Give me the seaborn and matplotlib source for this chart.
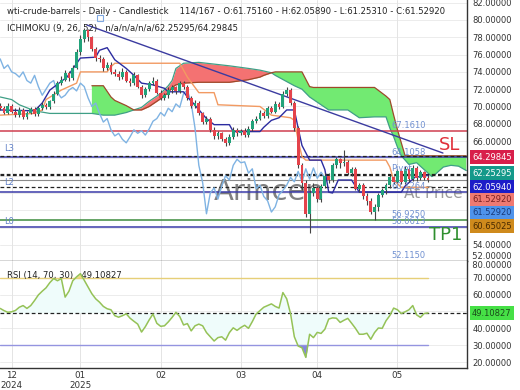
import numpy as np
import pandas as pd
import matplotlib
matplotlib.use("Agg")
import matplotlib.pyplot as plt
import seaborn as sns

# ---------------- data ----------------
header = "wti-crude-barrels - Daily - Candlestick    114/167 - O:61.75160 - H:62.05890 - L:61.25310 - C:61.52920"
ichimoku_header = "ICHIMOKU (9, 26, 52)   n/a/n/a/n/a/62.25295/64.29845"

opens = [
    70.1, 69.8, 69.3, 70.1, 69.4, 69.0, 69.6, 68.8, 69.3, 69.7,
    69.1, 69.8, 70.2, 69.9, 70.6, 71.5, 72.7, 73.1, 73.9, 73.3,
    74.5, 76.3, 77.8, 78.8, 78.0, 76.6, 75.6, 75.5, 74.4, 74.8,
    74.0, 73.8, 73.4, 74.0, 73.0, 72.7, 73.6, 72.3, 71.3, 72.0,
    72.7, 73.0, 71.6, 71.0, 71.3, 71.9, 72.2, 71.8, 72.7, 72.3,
    71.0, 70.0, 70.4, 69.2, 68.2, 68.6, 67.3, 66.6, 66.9, 66.2,
    65.8, 66.5, 67.3, 66.9, 67.2, 66.7, 67.4, 68.3, 68.6, 69.3,
    68.9, 69.8, 69.4, 70.3, 69.9, 71.5, 71.9, 70.4, 67.5, 63.2,
    61.2, 57.6, 60.0, 60.6, 59.3, 60.8, 62.0, 61.5, 63.2, 63.9,
    63.5, 63.6, 62.3, 62.8, 60.5, 60.9, 59.6, 59.1, 57.8, 58.4,
    59.8, 60.3, 60.9, 61.8, 61.3, 62.5, 61.3, 62.8, 61.6, 62.9,
    61.7, 62.4, 61.7516]
highs = [
    70.4, 70.0, 70.4, 70.3, 69.8, 69.9, 69.8, 69.5, 69.9, 69.9,
    70.1, 70.5, 70.4, 70.8, 71.8, 72.9, 73.5, 74.2, 74.1, 74.8,
    76.6, 78.3, 79.1, 79.0, 78.2, 76.9, 76.0, 75.7, 75.2, 75.1,
    74.3, 74.1, 74.5, 74.2, 73.3, 74.0, 73.8, 72.5, 72.3, 73.0,
    73.4, 73.2, 71.9, 71.6, 72.2, 72.5, 72.4, 73.0, 72.9, 72.5,
    71.2, 70.8, 70.6, 69.4, 68.9, 68.8, 67.6, 67.2, 67.1, 66.5,
    66.8, 67.6, 67.5, 67.4, 67.5, 67.7, 68.6, 68.9, 69.6, 69.5,
    70.1, 70.0, 70.6, 70.5, 71.8, 72.3, 72.1, 70.6, 67.7, 63.5,
    61.5, 60.3, 61.2, 60.8, 61.0, 62.3, 62.3, 63.5, 64.2, 64.0,
    65.0, 63.8, 63.0, 63.0, 61.2, 61.1, 60.0, 59.4, 58.7, 60.0,
    60.6, 61.2, 62.1, 62.0, 62.8, 62.7, 63.1, 63.0, 63.2, 63.1,
    62.7, 62.6, 62.0589]
lows = [
    69.6, 69.1, 69.1, 69.2, 68.8, 68.8, 68.5, 68.6, 69.1, 68.9,
    68.9, 69.6, 69.7, 69.7, 70.4, 71.3, 72.5, 72.9, 73.0, 73.1,
    74.3, 76.0, 77.5, 77.6, 76.4, 75.3, 75.1, 74.1, 74.2, 73.8,
    73.5, 73.1, 73.2, 72.8, 72.4, 72.5, 72.1, 71.0, 71.1, 71.8,
    72.5, 71.4, 70.8, 70.7, 71.0, 71.6, 71.5, 71.6, 72.0, 70.8,
    69.8, 69.8, 69.0, 68.0, 68.0, 67.1, 66.3, 66.3, 66.0, 65.4,
    65.6, 66.3, 66.6, 66.7, 66.5, 66.5, 67.2, 68.1, 68.4, 68.7,
    68.7, 69.2, 69.2, 69.7, 69.8, 71.2, 70.2, 67.2, 62.9, 60.4,
    57.2, 55.4, 59.6, 59.0, 59.0, 60.6, 61.2, 61.3, 62.9, 62.9,
    63.1, 62.1, 62.0, 60.3, 60.1, 59.3, 58.6, 57.6, 56.9, 57.9,
    59.5, 59.9, 60.6, 61.0, 61.1, 61.0, 61.0, 61.3, 61.4, 61.4,
    61.5, 61.5, 61.2531]
closes = [
    69.8, 69.3, 70.1, 69.4, 69.0, 69.6, 68.8, 69.3, 69.7, 69.1,
    69.8, 70.2, 69.9, 70.6, 71.5, 72.7, 73.1, 73.9, 73.3, 74.5,
    76.3, 77.8, 78.8, 78.0, 76.6, 75.6, 75.5, 74.4, 74.8, 74.0,
    73.8, 73.4, 74.0, 73.0, 72.7, 73.6, 72.3, 71.3, 72.0, 72.7,
    73.0, 71.6, 71.0, 71.3, 71.9, 72.2, 71.8, 72.7, 72.3, 71.0,
    70.0, 70.4, 69.2, 68.2, 68.6, 67.3, 66.6, 66.9, 66.2, 65.8,
    66.5, 67.3, 66.9, 67.2, 66.7, 67.4, 68.3, 68.6, 69.3, 68.9,
    69.8, 69.4, 70.3, 69.9, 71.5, 71.9, 70.4, 67.5, 63.2, 61.2,
    57.6, 60.0, 60.6, 59.3, 60.8, 62.0, 61.5, 63.2, 63.9, 63.5,
    63.6, 62.3, 62.8, 60.5, 60.9, 59.6, 59.1, 57.8, 58.4, 59.8,
    60.3, 60.9, 61.8, 61.3, 62.5, 61.3, 62.8, 61.6, 62.9, 61.7,
    62.4, 61.75, 61.5292]

rsi = [
    51.8, 50.5, 49.5, 49.8, 50.6, 52.5, 53.5, 51.8, 53.5, 56.5,
    59.8, 62.0, 64.0, 67.1, 69.5, 68.2, 69.5, 58.5, 62.0, 68.2,
    70.5, 72.4, 68.5, 64.5, 60.5, 57.5, 55.5, 53.0, 51.6, 51.0,
    47.5, 46.6, 47.5, 48.6, 46.0, 44.2, 42.5, 37.8, 41.0, 45.0,
    48.5, 43.0, 41.2, 41.5, 43.8, 46.5, 49.5, 47.0, 42.0, 42.8,
    38.5, 41.5, 42.5, 41.5, 37.5, 35.0, 32.5, 34.5, 35.0, 33.0,
    37.5, 40.3, 38.8, 40.5, 41.8, 40.0, 44.0, 48.5, 50.5, 52.5,
    53.5, 54.5, 53.0, 52.0, 61.2, 57.5, 48.8, 35.0, 29.5, 28.5,
    22.8, 36.5, 34.5, 37.6, 37.0, 39.5, 45.5, 46.2, 46.0, 43.5,
    44.8, 45.9, 43.0, 40.0, 36.5, 36.5, 37.1, 33.5, 37.5, 40.2,
    40.0, 44.5, 47.6, 52.0, 51.0, 48.8, 49.8, 51.0, 53.5, 48.0,
    46.5, 48.8, 49.10827]

month_idx = [3, 21, 42, 63, 83, 104]
month_labels = ["12\n2024", "01\n2025", "02", "03", "04", "05"]

tenkan_idx = [0, 9, 11, 13, 17.5, 21, 25, 26, 28, 30, 33, 35, 37, 40, 43, 44, 48, 49, 50.5,
              54, 56, 60, 61, 68, 69, 71, 73, 75, 77, 78, 79, 81, 84, 85, 86, 87, 88.5,
              92, 94, 105, 106, 108.5, 112]
tenkan_val = [69.6, 69.5, 70.4, 71.9, 73.4, 75.6, 75.7, 76.5, 76.8, 75.4, 74.4, 73.6, 72.7,
              72.5, 72.1, 71.7, 71.7, 71.1, 70.4, 68.6, 67.9, 67.9, 67.1, 67.1, 67.6, 68.4,
              68.7, 69.6, 69.6, 67.5, 65.5, 63.8, 63.8, 62.7, 60.1, 60.0, 61.5, 61.5, 60.1,
              60.1, 60.8, 61.8, 62.0594]

kijun_idx = [0, 9, 11, 12, 16, 20, 21, 28, 29, 30, 47, 49, 52, 56, 57, 68, 71, 76, 77, 78,
             79, 80, 101, 102, 103, 105, 112]
kijun_val = [69.0, 69.2, 69.6, 70.8, 71.9, 72.7, 74.0, 74.0, 74.6, 75.0, 75.0, 73.4, 71.6,
             71.6, 70.2, 70.0, 69.0, 68.7, 68.4, 66.1, 64.2, 63.8, 63.8, 63.0, 61.5, 60.65025,
             60.65025]

cloud_idx = [0, 3, 5, 9, 13, 24, 27, 29, 30, 31, 33, 35, 37, 39, 42, 44, 45, 46, 48, 52,
             54, 60, 65, 68, 69, 71, 72, 77, 79, 81, 82, 86, 91, 94, 98, 101, 102, 103, 104,
             105, 106, 107, 109, 111, 113, 114, 116, 118, 120, 122]
span_a = [71.1, 70.8, 70.2, 69.5, 69.2, 69.2, 69.0, 69.0, 69.0, 69.1, 69.3, 69.6, 69.9, 70.6,
          71.5, 72.4, 73.0, 74.4, 75.0, 75.1, 75.0, 74.7, 74.4, 74.2, 74.1, 73.9, 73.6, 72.4,
          72.0, 71.1, 70.8, 69.6, 69.6, 68.7, 68.8, 68.8, 67.5, 66.5, 65.3, 64.3, 63.8, 63.3,
          63.5, 62.7, 61.9, 62.2, 63.0, 63.2, 63.1, 62.6]
span_b = [np.nan, np.nan, np.nan, np.nan, np.nan, 72.4, 72.4, 71.1, 70.7, 70.5, 70.1, 69.6,
          69.6, 70.0, 70.9, 71.6, 72.2, 72.5, 72.7, 72.8, 72.8, 72.8, 73.1, 73.4, 73.6, 73.9,
          74.0, 74.0, 74.0, 72.3, 72.2, 72.2, 72.2, 72.2, 72.2, 71.2, 70.8, 69.0, 67.3, 65.8,
          64.3, 64.3, 64.3, 64.3, 64.3, 64.3, 64.3, 64.3, 64.3, 64.3]

trend_idx = [22.7, 115.9]
trend_val = [79.42, 64.62]

# horizontal levels
solid_levels = [67.1610, 64.1058, 60.0800, 56.9250, 56.0613]
dashed_levels = [64.29845, 62.25295, 62.05940, 60.65025]
last_price = 61.52920
level_texts = [("67.1610", 67.1610), ("64.1058", 64.1058), ("Pivot", 62.2), ("60.1264", 60.08),
               ("56.9250", 56.9250), ("56.0613", 56.0613), ("52.1150", 52.1150)]
left_texts = [("L3", 65.1), ("L2", 61.2), ("L0", 56.7)]

price_ticks = [54, 66, 68, 70, 72, 74, 76, 78, 80, 82]
grid_prices = list(range(54, 84, 2))

# right side value boxes: (text, face, text colour)
price_boxes = [("64.29845", "#d81e4a", "white"), ("62.25295", "#14998a", "white"),
               ("62.05940", "#1c1cc8", "white"), ("61.52920", "#f07a72", "#7a2020"),
               ("61.52920", "#4f93ea", "#1a3a7a"), ("60.65025", "#cf8a1c", "#4a2a00")]
rsi_box = ("49.10827", "#46e046", "#1a4a1a")

# ---------------- drawing ----------------
sns.set_theme(style="white")
plt.rcParams['font.family'] = ['DejaVu Sans']

GREEN = "#22a27a"
RED = "#e4434b"
NAVY = "#2c2ca0"

fig = plt.figure(figsize=(5.2, 3.9), dpi=100)
ax = fig.add_axes([0, 1 - 261 / 390, 467 / 520, 261 / 390])
axr = fig.add_axes([0, 1 - 368 / 390, 467 / 520, 107 / 390], sharex=ax)

idx = np.arange(len(closes))
df = pd.DataFrame({"i": idx, "o": opens, "h": highs, "l": lows, "c": closes})
up = df["c"] >= df["o"]

# grid
for p in grid_prices:
    ax.axhline(p, color="#e9e9e9", lw=0.6, zorder=0)
for r in [20, 30, 40, 50, 60, 70]:
    axr.axhline(r, color="#e9e9e9", lw=0.6, zorder=0)
for m in month_idx:
    ax.axvline(m, color="#e4e4e4", lw=0.7, zorder=0)
    axr.axvline(m, color="#e4e4e4", lw=0.7, zorder=0)

# cloud
a = np.array(span_a, float)
b = np.array(span_b, float)
ax.fill_between(cloud_idx, a, b, where=b >= a, interpolate=True, color="#72ea72", lw=0, zorder=1)
ax.fill_between(cloud_idx, a, b, where=a > b, interpolate=True, color="#f47272", lw=0, zorder=1)
sns.lineplot(x=cloud_idx, y=a, ax=ax, color="#3f9f86", lw=0.9, zorder=2)
sns.lineplot(x=cloud_idx, y=b, ax=ax, color="#9c4a2a", lw=0.9, zorder=2)

# levels
solid_colors = ["#cf3f4f", "#3a3aa8", "#3a3aa8", "#3c8c3c", "#3a3aa8"]
for v, col in zip(solid_levels, solid_colors):
    ax.axhline(v, color=col, lw=1.1, zorder=2)
for v in dashed_levels:
    ax.axhline(v, color="#222222", lw=0.9, ls=(0, (3, 2)), zorder=2)
ax.axhline(last_price, color="#8a8a8a", lw=0.8, zorder=2)

# watermark-like texts
ax.text(70.5, 60.1, "Arincen", fontsize=21, color="#555555", alpha=0.75,
        ha="center", va="center", zorder=1.5)
ax.text(113.5, 60.0, "At Price", fontsize=11, color="#9a9a9a", ha="center", va="center", zorder=1.5)
ax.text(117.6, 65.6, "SL", fontsize=13, color="#e0303a", ha="center", va="center", zorder=6)
ax.text(116.6, 55.1, "TP1", fontsize=13, color="#2f8f2f", ha="center", va="center", zorder=6)

for t, v in level_texts:
    ax.text(102.4, v + 0.1, t, fontsize=6, color="#7090d0", ha="left", va="bottom", zorder=6)
for t, v in left_texts:
    ax.text(1.0, v, t, fontsize=6, color="#6080c8", ha="left", va="center", zorder=6)

# ichimoku lines
sns.lineplot(x=kijun_idx, y=kijun_val, ax=ax, color="#f29a62", lw=1.0, zorder=3)
sns.lineplot(x=idx[:-26], y=closes[26:], ax=ax, color="#7fb3e3", lw=1.0, zorder=3)
sns.lineplot(x=tenkan_idx, y=tenkan_val, ax=ax, color=NAVY, lw=1.0, zorder=3)
sns.lineplot(x=trend_idx, y=trend_val, ax=ax, color="#3b3ba0", lw=1.0, zorder=3)
ax.plot([26.1], [80.25], marker="s", ms=4, mfc="none", mec="#7fa7e0", mew=0.8, zorder=3)

# candles
ax.vlines(df["i"], df["l"], df["h"], colors="#444444", lw=0.8, zorder=4)
body = (df["c"] - df["o"]).abs().clip(lower=0.1)
ax.bar(df["i"], body, bottom=np.minimum(df["o"], df["c"]), width=0.74,
       color=np.where(up, GREEN, RED), lw=0, zorder=5)

# header texts
ax.text(0.016, 0.955, header, transform=ax.transAxes, fontsize=6.1, color="#222222", va="center")
ax.text(0.016, 0.89, ichimoku_header, transform=ax.transAxes, fontsize=6.1, color="#222222", va="center")

# price axis cosmetics
ax.set_xlim(-0.05, 122.2)
ax.set_ylim(52.14, 82.31)
ax.yaxis.tick_right()
ax.set_yticks(price_ticks)
ax.set_yticklabels([f"{v:.5f}" for v in price_ticks])
ax.tick_params(axis="y", labelsize=6, colors="#333333", length=0, pad=4)
ax.tick_params(axis="x", labelbottom=False, length=0)
ax.text(1.0, 0.0, "  52.00000", transform=ax.transAxes, fontsize=6, color="#333333",
        va="bottom", ha="left")
for s in ["left", "top"]:
    ax.spines[s].set_visible(False)
for s in ["right", "bottom"]:
    ax.spines[s].set_color("#333333")
    ax.spines[s].set_linewidth(1.0)
ax.set_xlabel("")
ax.set_ylabel("")

# RSI panel
rsi_arr = np.array(rsi)
axr.fill_between(idx, rsi_arr, 49.10827, color="#effcfb", lw=0, zorder=1)
axr.fill_between(idx, rsi_arr, 30, where=rsi_arr < 30, interpolate=True, color="#8585e0", lw=0, zorder=2)
axr.fill_between(idx, rsi_arr, 70, where=rsi_arr > 70, interpolate=True, color="#f0dc80", lw=0, zorder=2)
sns.lineplot(x=[0, idx[-1]], y=[70, 70], ax=axr, color="#e6cf78", lw=1.0, zorder=2)
sns.lineplot(x=[0, idx[-1]], y=[30, 30], ax=axr, color="#9494e0", lw=1.0, zorder=2)
axr.axhline(49.10827, color="#222222", lw=0.9, ls=(0, (3, 2)), zorder=3)
sns.lineplot(x=idx, y=rsi_arr, ax=axr, color="#95c257", lw=1.1, zorder=4)
axr.text(0.016, 0.86, "RSI (14, 70, 30)   49.10827", transform=axr.transAxes,
         fontsize=6.1, color="#222222", va="center")

axr.set_ylim(16.5, 79.9)
axr.yaxis.tick_right()
axr.set_yticks([20, 30, 40, 60, 70])
axr.set_yticklabels([f"{v:.5f}" for v in [20, 30, 40, 60, 70]])
axr.text(1.0, 1.0, "  80.00000", transform=axr.transAxes, fontsize=6, color="#333333",
         va="top", ha="left")
axr.tick_params(axis="y", labelsize=6, colors="#333333", length=0, pad=4)
axr.set_xticks(month_idx)
axr.set_xticklabels(month_labels)
axr.tick_params(axis="x", labelsize=6.3, colors="#333333", length=0, pad=2)
for s in ["left", "top"]:
    axr.spines[s].set_visible(False)
for s in ["right", "bottom"]:
    axr.spines[s].set_color("#333333")
    axr.spines[s].set_linewidth(1.0)
axr.set_xlabel("")
axr.set_ylabel("")

# value boxes on the right
box_y = [157, 173, 187, 200, 213, 226]
for (t, fc, tc), yy in zip(price_boxes, box_y):
    fig.text(472 / 520, 1 - yy / 390, t, fontsize=6, color=tc, va="center", ha="left",
             bbox=dict(boxstyle="square,pad=0.25", fc=fc, ec="none"), zorder=10)
t, fc, tc = rsi_box
fig.text(472 / 520, 1 - 313 / 390, t, fontsize=6, color=tc, va="center", ha="left",
         bbox=dict(boxstyle="square,pad=0.25", fc=fc, ec="none"), zorder=10)

fig.savefig("out.png", dpi=100)
